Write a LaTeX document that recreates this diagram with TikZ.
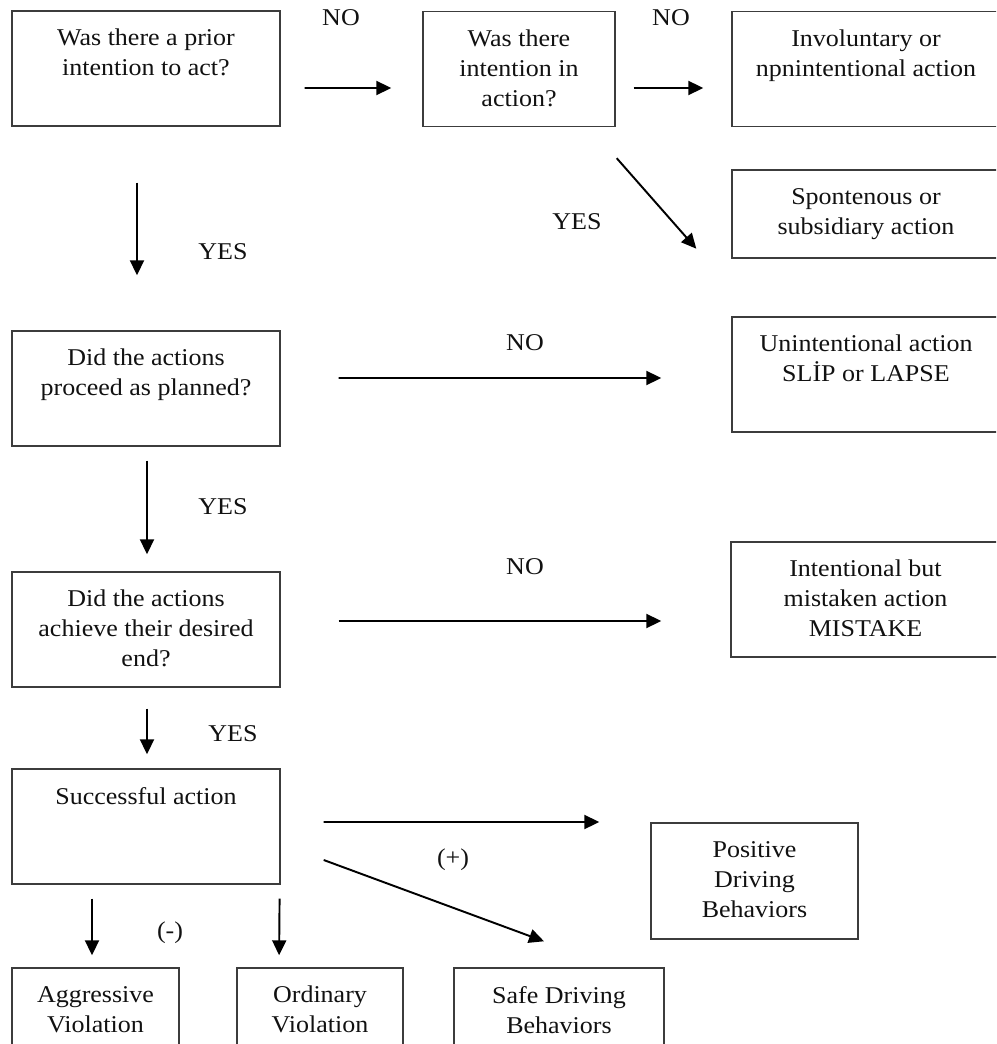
\documentclass[tikz,border=0pt]{standalone}
\usepackage{fontspec}
\setmainfont[FakeStretch=1.08]{Liberation Serif}
\usetikzlibrary{arrows.meta}
\definecolor{boxgray}{HTML}{3C3C3C}
\definecolor{inkblack}{HTML}{111111}

\begin{document}
\begin{tikzpicture}[
    font=\fontsize{13.7}{17.1}\selectfont,
    box/.style={draw=boxgray, line width=0.8pt, inner sep=0pt,
                minimum width=5.36cm, minimum height=2.3cm},
    boxtxt/.style={anchor=north, yshift=-0.37cm, inner sep=0pt, align=center, text=inkblack},
    lbl/.style={inner sep=0pt, text=inkblack},
    arr/.style={-{Triangle[length=0.3cm,width=0.28cm]}, line width=1.1pt, draw=black}
  ]
  \useasboundingbox (0,0) rectangle (19.92,-20.88);
  \clip (0,0) rectangle (19.92,-20.88);
  % ------------- Top row -------------
  \node[box, label={[boxtxt]north:{Was there a prior\\intention to act?}}] (prior) at (2.92,-1.37) {};
  \node[box, minimum width=3.84cm, label={[boxtxt]north:{Was there\\intention in\\action?}}] (inaction) at (10.38,-1.38) {};
  \node[box, label={[boxtxt]north:{Involuntary or\\npnintentional action}}] (involuntary) at (17.32,-1.38) {};
  \node[box, minimum height=1.76cm, label={[boxtxt]north:{Spontenous or\\subsidiary action}}] (spont) at (17.32,-4.28) {};
  \draw[arr, shorten <=0.48cm, shorten >=0.62cm] ([yshift=-0.39cm]prior.east) -- ([yshift=-0.38cm]inaction.west);
  \draw[arr, shorten <=0.36cm, shorten >=0.56cm] ([yshift=-0.38cm]inaction.east) -- ([yshift=-0.38cm]involuntary.west);
  \draw[arr] ([shift={(0.02,-0.62)}]inaction.south east) -- ([shift={(-0.7,0.2)}]spont.south west);
  \node[lbl] (no1) at (6.82,-0.36) {NO};
  \node[lbl] (no2) at (13.42,-0.36) {NO};
  \node[lbl] (yes1) at (11.54,-4.44) {YES};
  % ------------- Planned -------------
  \node[box, label={[boxtxt]north:{Did the actions\\proceed as planned?}}] (planned) at (2.92,-7.77) {};
  \node[box, label={[boxtxt]north:{Unintentional action\\SLİP or LAPSE}}] (slip) at (17.32,-7.49) {};
  \draw[arr, shorten <=1.12cm, shorten >=1.1cm] ([xshift=-0.18cm]prior.south) -- ([xshift=-0.18cm]planned.north);
  \draw[arr, shorten <=1.16cm, shorten >=1.4cm] ([yshift=0.21cm]planned.east) -- ([yshift=-0.07cm]slip.west);
  \node[lbl] (yes2) at (4.46,-5.04) {YES};
  \node[lbl] (no3) at (10.50,-6.86) {NO};
  % ------------- Desired end -------------
  \node[box, label={[boxtxt]north:{Did the actions\\achieve their desired\\end?}}] (desired) at (2.92,-12.59) {};
  \node[box, minimum width=5.38cm, label={[boxtxt]north:{Intentional but\\mistaken action\\MISTAKE}}] (mistake) at (17.31,-11.99) {};
  \draw[arr, shorten <=0.28cm, shorten >=0.34cm] ([xshift=0.02cm]planned.south) -- ([xshift=0.02cm]desired.north);
  \draw[arr, shorten <=1.16cm, shorten >=1.38cm] ([yshift=0.17cm]desired.east) -- ([yshift=-0.43cm]mistake.west);
  \node[lbl] (yes3) at (4.46,-10.14) {YES};
  \node[lbl] (no4) at (10.50,-11.34) {NO};
  % ------------- Successful action -------------
  \node[box, label={[boxtxt]north:{Successful action}}] (success) at (2.92,-16.53) {};
  \node[box, minimum width=4.14cm, minimum height=2.32cm, label={[boxtxt]north:{Positive\\Driving\\Behaviors}}] (positive) at (15.09,-17.62) {};
  \draw[arr, shorten <=0.42cm, shorten >=0.28cm] ([xshift=0.02cm]desired.south) -- ([xshift=0.02cm]success.north);
  \draw[arr, shorten <=0.86cm, shorten >=1.02cm] ([yshift=0.09cm]success.east) -- ([yshift=1.18cm]positive.west);
  \node[lbl] (yes4) at (4.66,-14.68) {YES};
  \node[lbl] (plus) at (9.06,-17.20) {(+)};
  % ------------- Bottom row -------------
  \node[box, minimum width=3.34cm, label={[boxtxt]north:{Aggressive\\Violation}}] (aggressive) at (1.91,-20.51) {};
  \node[box, minimum width=3.32cm, label={[boxtxt]north:{Ordinary\\Violation}}] (ordinary) at (6.40,-20.51) {};
  \node[box, minimum width=4.20cm, label={[boxtxt]north:{Safe Driving\\Behaviors}}] (safe) at (11.18,-20.51) {};
  \draw[arr] ([shift={(0.86,-0.67)}]success.east) -- ([shift={(-0.3,0.52)}]safe.north);
  \draw[arr, shorten <=0.28cm, shorten >=0.24cm] ([xshift=-1.08cm]success.south) -- ([xshift=-0.07cm]aggressive.north);
  \draw[arr, shorten <=0.28cm, shorten >=0.24cm] ([xshift=-0.02cm]success.south east) -- ([xshift=-0.82cm]ordinary.north);
  \node[lbl] (minus) at (3.40,-18.66) {(-)};
\end{tikzpicture}
\end{document}
